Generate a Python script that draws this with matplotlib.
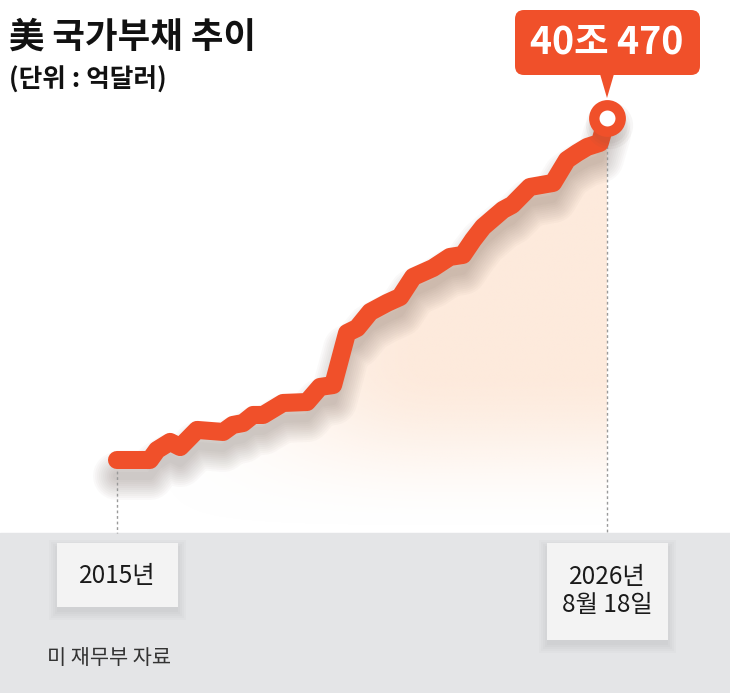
import numpy as np
import matplotlib.pyplot as plt
from matplotlib.patches import Rectangle, FancyBboxPatch, Polygon
import matplotlib.transforms as mtransforms

plt.rcParams['font.family'] = ['Noto Sans CJK KR', 'DejaVu Sans']

# ----- Data (unit: 억달러) -----
years = [2015.00, 2015.78, 2015.95, 2016.26, 2016.50, 2016.90, 2017.52, 2017.75,
         2017.99, 2018.23, 2018.47, 2018.94, 2019.51, 2019.82, 2020.13, 2020.46,
         2020.70, 2021.01, 2021.41, 2021.72, 2022.03, 2022.50, 2022.90, 2023.21,
         2023.45, 2023.69, 2024.16, 2024.38, 2024.80, 2025.35, 2025.68, 2025.92,
         2026.16, 2026.46, 2026.63]
debt = [181000, 181000, 187400, 192600, 189300, 200300, 199000, 203500,
        204700, 209900, 209900, 217600, 218200, 227900, 229100, 262500,
        265700, 276000, 281800, 285600, 298500, 304200, 311300, 312600,
        322200, 330600, 341500, 344700, 356200, 358800, 373600, 378000,
        381900, 384500, 400470]

title = "美 국가부채 추이"
unit_label = "(단위 : 억달러)"
start_label = "2015년"
end_label = "2026년\n8월 18일"
last_label = "40조 470"
source = "미 재무부 자료"

# ----- Colours -----
orange = '#f0502a'
peach = np.array([253, 234, 220]) / 255
band_gray = '#e4e5e7'
box_gray = '#f3f3f3'

# ----- Layout (pixels, measured from top-left) -----
W, H = 730, 693
x0_px, x1_px = 117, 607      # first / last point
y_first_px, y_last_px = 460, 118
band_px = 533                # top of grey band

fig = plt.figure(figsize=(W / 100, H / 100), dpi=100)

# background / decoration axes in pixel coordinates
bg = fig.add_axes([0, 0, 1, 1], zorder=0)
bg.set_xlim(0, W)
bg.set_ylim(H, 0)
bg.axis('off')

bg.add_patch(Rectangle((0, band_px), W, H - band_px, color=band_gray, zorder=0))

# ----- Data axes -----
ax = fig.add_axes([x0_px / W, (H - band_px) / H, (x1_px - x0_px) / W,
                   (band_px - y_last_px) / H], zorder=1)
ax.patch.set_alpha(0)
ax.axis('off')
span = debt[-1] - debt[0]
ylo = debt[-1] - span * (band_px - y_last_px) / (y_first_px - y_last_px)
yhi = debt[-1]

# gradient fill under the line
verts = list(zip(years, debt)) + [(years[-1], ylo), (years[0], ylo)]
clip = Polygon(verts, closed=True, facecolor='none', edgecolor='none')
ax.add_patch(clip)
nx, ny = 200, 120
gx = np.linspace(0, 1, nx)[None, :]
gy = np.linspace(0, 1, ny)[:, None]
fx = np.clip((gx - 0.05) / 0.6, 0, 1)
fy = np.clip(gy / 0.4, 0, 1)
img = np.zeros((ny, nx, 4))
img[..., :3] = peach
img[..., 3] = (fx * (3 - 2 * fx) * fx) * (fy * fy * (3 - 2 * fy))
im = ax.imshow(img, extent=(years[0], years[-1], ylo, yhi), origin='lower',
               aspect='auto', interpolation='bilinear', zorder=1)
im.set_clip_path(clip)

# soft shadow under the line
tr = mtransforms.offset_copy(ax.transData, fig=fig, x=0, y=-16, units='dots')
for lw in range(48, 6, -4):
    ax.plot(years, debt, color='#6a5850', lw=lw * 0.72, alpha=0.03, transform=tr,
            solid_capstyle='round', solid_joinstyle='round', zorder=2, clip_on=False)

# dotted guides
ax.plot([years[0]] * 2, [debt[0], ylo], color='#999999', lw=1,
        linestyle=(0, (2, 2)), zorder=2, clip_on=False)
ax.plot([years[-1]] * 2, [debt[-1], ylo], color='#999999', lw=1,
        linestyle=(0, (2, 2)), zorder=2, clip_on=False)

# main line
ax.plot(years, debt, color=orange, lw=13, solid_capstyle='round',
        solid_joinstyle='round', zorder=3, clip_on=False)

# end marker
trm = mtransforms.offset_copy(ax.transData, fig=fig, x=2, y=-7, units='dots')
for ms in (34, 30, 26):
    ax.plot(years[-1], debt[-1], 'o', ms=ms, color='#6a5850', alpha=0.05,
            mew=0, transform=trm, zorder=3, clip_on=False)
ax.plot(years[-1], debt[-1], 'o', ms=19, mfc='white', mec=orange, mew=7.5,
        zorder=4, clip_on=False)

ax.set_xlim(years[0], years[-1])
ax.set_ylim(ylo, yhi)

# ----- Callout -----
bg.add_patch(FancyBboxPatch((515, 10), 185, 65,
                            boxstyle='round,pad=0,rounding_size=9',
                            facecolor=orange, edgecolor='none', zorder=2))
bg.add_patch(Polygon([(x1_px - 7, 74), (x1_px + 7, 74), (x1_px, 98)],
                     closed=True, facecolor=orange, edgecolor='none', zorder=2))
bg.text(x1_px, 43, last_label, ha='center', va='center', color='white',
        fontsize=27, fontweight='bold', zorder=3)

# ----- Titles -----
bg.text(9, 37, title, ha='left', va='center', fontsize=25.5,
        fontweight='bold', color='#111111')
bg.text(9, 80, unit_label, ha='left', va='center', fontsize=18.5,
        fontweight='bold', color='#111111')


# ----- Label boxes in the band -----
def label_box(x, y, w, h):
    for i in range(5):
        g = 10 - 2 * i
        bg.add_patch(Rectangle((x - g + 2, y - g + 7), w + 2 * g - 4, h + 2 * g - 4,
                               facecolor='#505050', edgecolor='none', alpha=0.025,
                               zorder=1))
    bg.add_patch(Rectangle((x, y), w, h, facecolor=box_gray, edgecolor='none',
                           zorder=2))


label_box(57, 543, 121, 64)
label_box(547, 543, 121, 97)
bg.text(x0_px, 576, start_label, ha='center', va='center', fontsize=17.5,
        color='#1a1a1a', zorder=3)
bg.text(x1_px, 591, end_label, ha='center', va='center', fontsize=17.5,
        color='#1a1a1a', linespacing=1.15, zorder=3)
bg.text(47, 658, source, ha='left', va='center', fontsize=15,
        color='#333333', zorder=3)

fig.savefig('out.png', dpi=100)
